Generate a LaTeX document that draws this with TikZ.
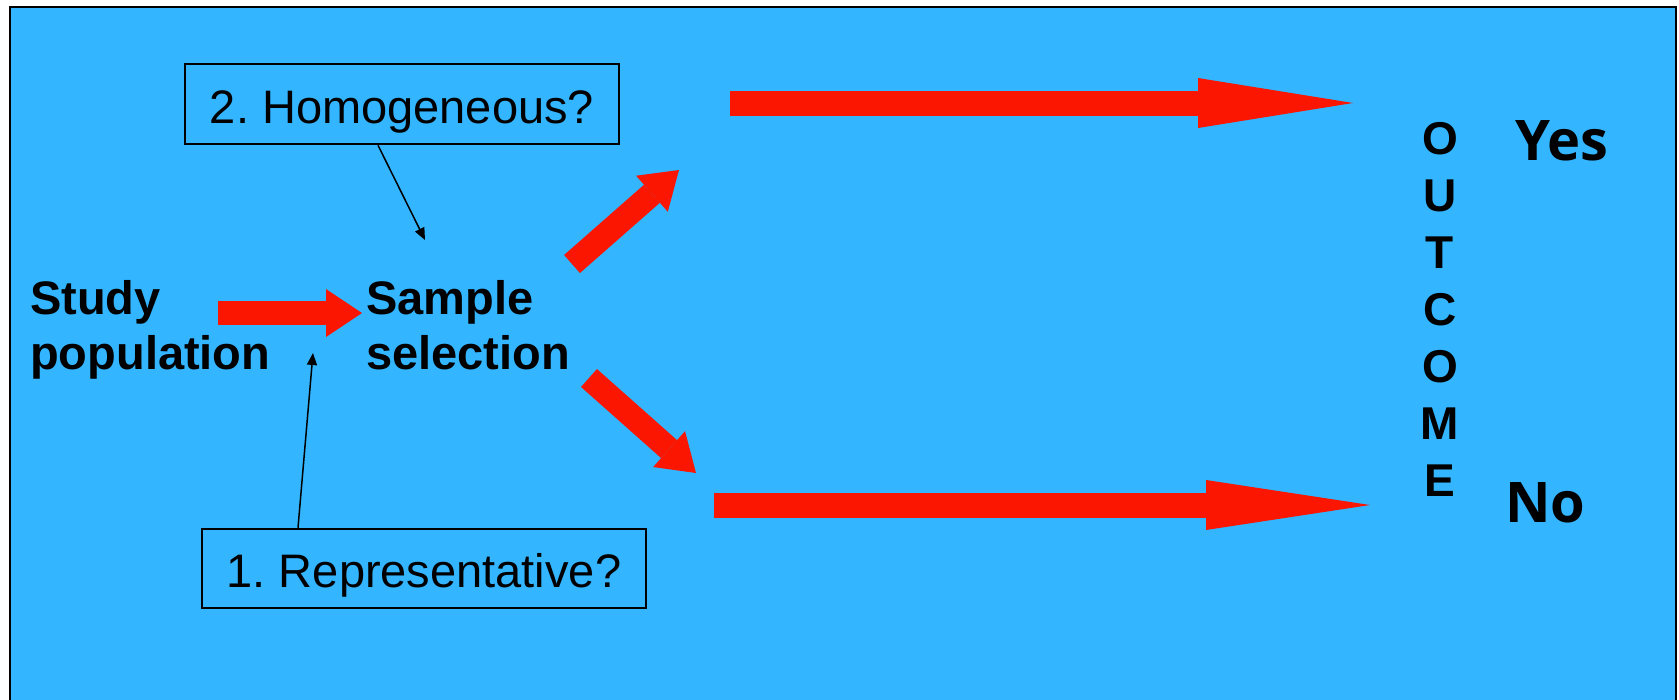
\documentclass[tikz,border=0pt]{standalone}
\usepackage{fontspec}
\setmainfont{Liberation Sans}
\newfontfamily\answerfont{Open Sans}
\usetikzlibrary{arrows.meta}
\definecolor{slideblue}{RGB}{51,181,255}
\definecolor{arrowred}{RGB}{250,22,0}
\frenchspacing

\begin{document}
\begin{tikzpicture}[
  x=1pt, y=-1pt,
  qbox/.style={draw, line width=2.5pt, inner sep=0pt, font=\fontsize{47}{56}\selectfont, text height=46pt, text depth=8pt},
  bigtext/.style={inner sep=0pt, align=left, font=\fontsize{47}{55}\selectfont\bfseries},
  redarrow/.style={draw=arrowred, line width=24pt, -{Triangle[length=36pt, width=48pt, line width=0pt]}},
  longred/.style={draw=arrowred, line width=25pt, -{Triangle[length=#1, width=50pt, line width=0pt]}},
  pointer/.style={line width=1.5pt, -{Triangle[length=12pt, width=10pt]}}
]
\useasboundingbox (0,0) rectangle (1679,699);
\clip (0,0) rectangle (1679,699);
\fill[white] (0,0) rectangle (1679,699);
\draw[fill=slideblue, line width=2.5pt] (10,7) rectangle (1676,720);

\node[bigtext, anchor=west] (study) at (30,330) {Study\\population};
\node[bigtext, anchor=west] (sample) at (366,325) {Sample\\selection};
\node[qbox, minimum width=434pt, minimum height=80pt] (hom) at (402,104) {2. Homogeneous?};
\node[qbox, minimum width=444pt, minimum height=79pt] (rep) at (424,568.5) {1. Representative?};
\node[inner sep=0pt, align=center, font=\fontsize{46}{57}\selectfont\bfseries] (outcome) at (1440,309) {O\\U\\T\\C\\O\\M\\E};
\node[anchor=base west, inner sep=0pt, font=\answerfont\bfseries\fontsize{56}{56}\selectfont] (yes) at (1515,160) {Yes};
\node[anchor=base west, inner sep=0pt, font=\answerfont\bfseries\fontsize{56}{56}\selectfont] (no) at (1505,522) {No};

\coordinate (homtip) at (425,240);
\coordinate (reptip) at (313,353);
\coordinate (pop) at (218,313);
\coordinate (upstart) at (572,264);
\coordinate (upend) at (679,170);
\coordinate (downstart) at (589,378);
\coordinate (downend) at (696,473);
\coordinate (yesstart) at (730,103);
\coordinate (yesend) at (1353,103);
\coordinate (nostart) at (714,505);
\coordinate (noend) at (1370,505);

\draw[redarrow] (pop) -- ([xshift=-4pt]pop -| sample.west);
\draw[redarrow] (upstart) -- (upend);
\draw[redarrow] (downstart) -- (downend);
\draw[longred=155pt] (yesstart) -- (yesend);
\draw[longred=164pt] (nostart) -- (noend);
\draw[pointer] ([xshift=-24pt]hom.south) -- (homtip);
\draw[pointer] ([xshift=-126pt]rep.north) -- (reptip);
\end{tikzpicture}
\end{document}
